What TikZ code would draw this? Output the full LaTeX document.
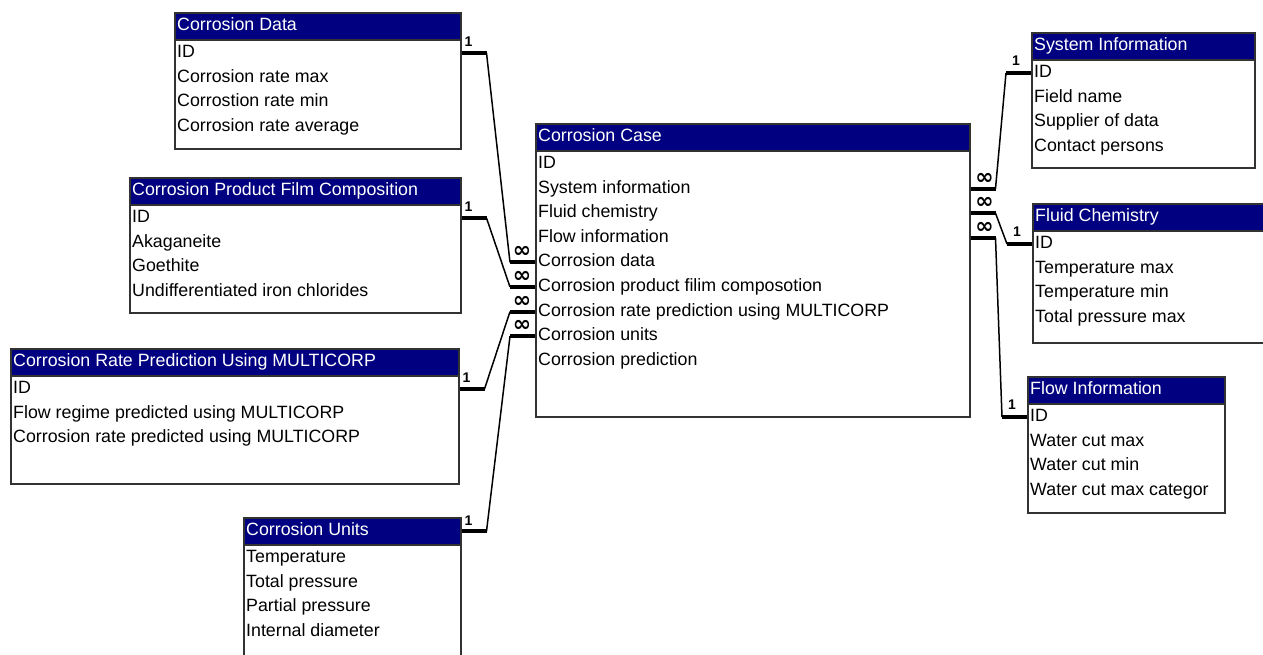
\documentclass[tikz,border=0pt]{standalone}
\usepackage{fontspec}
\setmainfont{Liberation Sans}
\newfontfamily\symfont{DejaVu Sans}
\usepackage{tikz}
\definecolor{titlenavy}{RGB}{0,0,128}
\definecolor{boxgray}{RGB}{50,50,50}
\newcommand{\tabfont}{\fontsize{17.8}{20}\selectfont}
\newcommand{\manysign}{{\symfont\bfseries ∞}}
\newcommand{\ertable}[6]{%
    \node[tablebox, minimum width=#3, minimum height=#4] (#1) at (#2) {};
    \node[tablehead, minimum width=#3] (#1-h) at (#1.north west) {};
    \node[headtext] (#1-t) at (#1-h.west) {#5};
    \foreach \f [count=\i] in {#6}
        \node[field] (#1-\i) at ([yshift={-12.5-(\i-1)*24.6}]#1-h.south west) {\f};
}
\tikzset{
    tablebox/.style={draw=boxgray, line width=1.5pt, fill=white, anchor=north west, inner sep=0pt},
    tablehead/.style={draw=boxgray, line width=1.5pt, fill=titlenavy, anchor=north west, inner sep=0pt, minimum height=27},
    headtext/.style={anchor=west, text=white, inner xsep=3pt, inner ysep=0pt, text height=12.8pt, text depth=3.8pt, font=\tabfont},
    field/.style={anchor=west, inner xsep=3pt, inner ysep=0pt, text height=12.8pt, text depth=3.8pt, font=\tabfont},
    stub/.style={line width=4pt},
    link/.style={line width=1.5pt},
    onemark/.style={anchor=south, inner sep=0pt, font=\fontsize{14}{14}\selectfont\bfseries},
    manymark/.style={inner sep=0pt, font=\fontsize{22}{22}\selectfont}
}

\begin{document}
\begin{tikzpicture}[x=1pt, y=-1pt]
    \useasboundingbox (0,0) rectangle (1263,654);
    \clip (0,0) rectangle (1263,654);
    \ertable{data}{174,12}{286}{136}{Corrosion Data}
        {ID, Corrosion rate max, Corrostion rate min, Corrosion rate average}
    \ertable{film}{129,177}{331}{135}{Corrosion Product Film Composition}
        {ID, Akaganeite, Goethite, Undifferentiated iron chlorides}
    \ertable{rate}{10,348}{448}{135}{Corrosion Rate Prediction Using MULTICORP}
        {ID, Flow regime predicted using MULTICORP, Corrosion rate predicted using MULTICORP}
    \ertable{units}{243,517}{217}{170}{Corrosion Units}
        {Temperature, Total pressure, Partial pressure, Internal diameter}
    \ertable{case}{535,123}{434}{293}{Corrosion Case}
        {ID, System information, Fluid chemistry, Flow information, Corrosion data,
         Corrosion product filim composotion, Corrosion rate prediction using MULTICORP,
         Corrosion units, Corrosion prediction}
    \ertable{sys}{1031,32}{223}{135}{System Information}
        {ID, Field name, Supplier of data, Contact persons}
    \ertable{fluid}{1032,203}{260}{139}{Fluid Chemistry}
        {ID, Temperature max, Temperature min, Total pressure max}
    \ertable{flow}{1027,376}{197}{136}{Flow Information}
        {ID, Water cut max, Water cut min, Water cut max categor}

    \foreach \tb/\row/\crow in {data/data-1/case-5, film/film-1/case-6,
                                rate/rate-1/case-7, units/units-h/case-8}{
        \coordinate (\tb-start) at (\tb.east |- \row);
        \coordinate (\tb-cstart) at (case.west |- \crow);
        \draw[stub] (\tb-start) -- ++(25,0) coordinate (\tb-end);
        \draw[stub] (\tb-cstart) -- ++(-25,0) coordinate (\tb-cend);
        \draw[link] (\tb-end) -- (\tb-cend);
        \node[onemark] (\tb-one) at ([xshift=7, yshift=6]\tb-start) {1};
        \node[manymark] (\tb-many) at ([xshift=-13, yshift=10]\tb-cstart) {\manysign};
    }
    \foreach \tb/\crow in {sys/case-2, fluid/case-3, flow/case-4}{
        \coordinate (\tb-start) at (\tb.west |- \tb-1);
        \coordinate (\tb-cstart) at (case.east |- \crow);
        \draw[stub] (\tb-start) -- ++(-25,0) coordinate (\tb-end);
        \draw[stub] (\tb-cstart) -- ++(25,0) coordinate (\tb-cend);
        \draw[link] (\tb-end) -- (\tb-cend);
        \node[onemark] (\tb-one) at ([xshift=-15, yshift=7]\tb-start) {1};
        \node[manymark] (\tb-many) at ([xshift=14, yshift=10]\tb-cstart) {\manysign};
    }
\end{tikzpicture}
\end{document}
